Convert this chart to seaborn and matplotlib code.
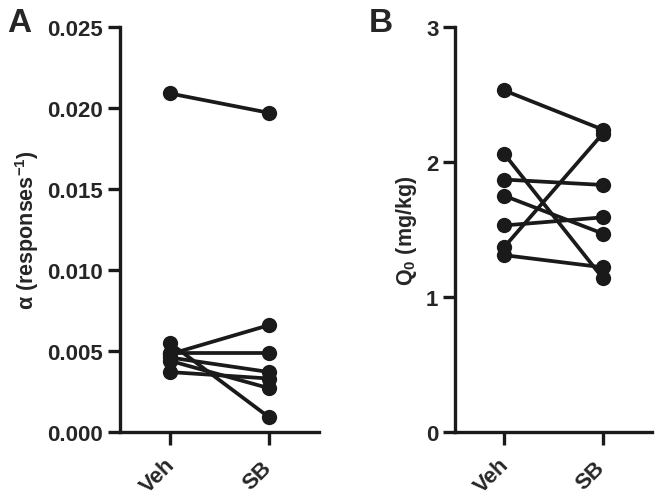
import pandas as pd
import seaborn as sns
import matplotlib.pyplot as plt
from matplotlib.ticker import FormatStrFormatter
from matplotlib.transforms import ScaledTranslation

# values (one entry per subject)
conditions = ['Veh', 'SB']
alpha_veh = [0.0209, 0.0048, 0.0055, 0.0049, 0.0046, 0.0044, 0.0037]
alpha_sb = [0.0197, 0.0066, 0.0009, 0.0049, 0.0037, 0.0027, 0.0033]
q0_veh = [2.53, 2.06, 1.87, 1.75, 1.53, 1.37, 1.31]
q0_sb = [2.24, 1.14, 1.83, 1.47, 1.59, 2.21, 1.22]
alpha_ticks = [0.000, 0.005, 0.010, 0.015, 0.020, 0.025]
q0_ticks = [0, 1, 2, 3]


def long_form(veh, sb):
    rows = []
    for i, (a, b) in enumerate(zip(veh, sb)):
        rows.append({'subject': i, 'cond': conditions[0], 'value': a})
        rows.append({'subject': i, 'cond': conditions[1], 'value': b})
    return pd.DataFrame(rows)


df_alpha = long_form(alpha_veh, alpha_sb)
df_q0 = long_form(q0_veh, q0_sb)

sns.set_style('ticks')
plt.rcParams['font.family'] = ['Liberation Sans', 'DejaVu Sans']
plt.rcParams['font.weight'] = 'bold'
plt.rcParams['mathtext.fontset'] = 'custom'
plt.rcParams['mathtext.sf'] = 'Liberation Sans'
plt.rcParams['mathtext.default'] = 'regular'

fig = plt.figure(figsize=(6.64, 5.02), dpi=100)
ax_a = fig.add_axes([120 / 664, 69 / 502, 199 / 664, 405 / 502])
ax_b = fig.add_axes([455 / 664, 69 / 502, 197 / 664, 405 / 502])


def draw(ax, df, ticks, ylabel):
    sns.lineplot(data=df, x='cond', y='value', units='subject', estimator=None,
                 color='#1a1a1a', linewidth=2.7, marker='o', markersize=11,
                 markeredgewidth=0, ax=ax)
    ax.set_xlim(-0.5, 1.5)
    ax.set_ylim(ticks[0], ticks[-1])
    ax.set_yticks(ticks)
    ax.set_xlabel('')
    ax.set_ylabel(ylabel, fontsize=15.5, fontweight='bold', labelpad=5)
    for s in ['top', 'right']:
        ax.spines[s].set_visible(False)
    for s in ['left', 'bottom']:
        ax.spines[s].set_linewidth(2.4)
        ax.spines[s].set_color('#1a1a1a')
    ax.tick_params(direction='out', length=9, width=2.4, color='#1a1a1a',
                   labelsize=16, pad=3)
    ax.tick_params(axis='x', pad=22)
    shift = ScaledTranslation(-12 / 100, 0, fig.dpi_scale_trans)
    for lab in ax.get_xticklabels():
        lab.set_rotation(45)
        lab.set_ha('center')
        lab.set_va('center')
        lab.set_rotation_mode('anchor')
        lab.set_fontweight('bold')
        lab.set_transform(lab.get_transform() + shift)
    for lab in ax.get_yticklabels():
        lab.set_fontweight('bold')


draw(ax_a, df_alpha, alpha_ticks, r'$\mathsf{\alpha}$ (responses$^{-1}$)')
ax_a.yaxis.set_major_formatter(FormatStrFormatter('%.3f'))
for lab in ax_a.get_yticklabels():
    lab.set_fontweight('bold')
draw(ax_b, df_q0, q0_ticks, r'Q$_0$ (mg/kg)')

fig.text(7 / 664, 1 - 8 / 502, 'A', fontsize=24, fontweight='bold', va='top')
fig.text(369 / 664, 1 - 8 / 502, 'B', fontsize=24, fontweight='bold', va='top')

fig.savefig('out.png', dpi=100)
